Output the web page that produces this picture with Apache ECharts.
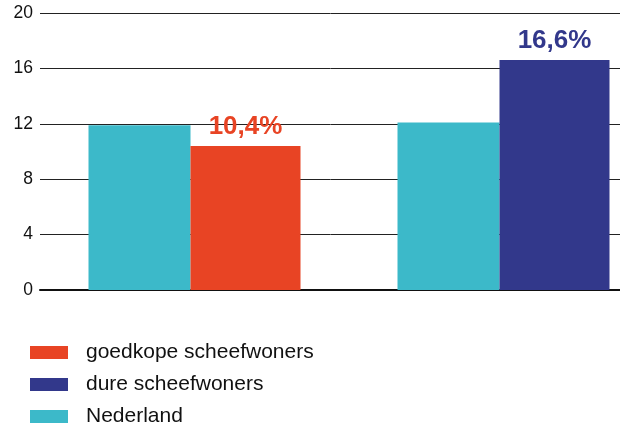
<!DOCTYPE html>
<html>
<head>
<meta charset="utf-8">
<script src="https://cdn.jsdelivr.net/npm/echarts@6/dist/echarts.min.js"></script>
<style>
html,body{margin:0;padding:0;background:#fff;}
#chart{width:620px;height:423px;}
</style>
</head>
<body>
<div id="chart"></div>
<script>
var categories = ['goedkope scheefwoners', 'dure scheefwoners'];
var nederland = [11.9, 12.1];
var goedkope = [10.4, '-'];
var dure = ['-', 16.6];
var yTicks = [0, 4, 8, 12, 16, 20];
var legendNames = ['goedkope scheefwoners', 'dure scheefwoners', 'Nederland'];

var FONT = '"Liberation Sans", Arial, sans-serif';
function pct(p) { return String(p.value).replace('.', ',') + '%'; }

var chart = echarts.init(document.getElementById('chart'), null, {renderer: 'canvas'});
chart.setOption({
  animation: false,
  backgroundColor: '#ffffff',
  grid: {left: 40, top: 13, width: 618, height: 277, containLabel: false, outerBoundsMode: 'none'},
  legend: {
    orient: 'vertical',
    left: 30,
    top: 342,
    height: 120,
    padding: 0,
    icon: 'rect',
    itemWidth: 38,
    itemHeight: 13,
    itemGap: 11,
    data: legendNames,
    textStyle: {fontFamily: FONT, fontSize: 21, color: '#111', padding: [0, 0, 0, 13]}
  },
  xAxis: {
    type: 'category',
    data: categories,
    axisLine: {lineStyle: {color: '#111', width: 2}},
    axisTick: {show: false},
    axisLabel: {show: false}
  },
  yAxis: {
    type: 'value',
    min: yTicks[0],
    max: yTicks[yTicks.length - 1],
    interval: yTicks[1] - yTicks[0],
    axisLine: {show: false},
    axisTick: {show: false},
    axisLabel: {fontFamily: FONT, fontSize: 17.5, color: '#111', margin: 7},
    splitLine: {lineStyle: {color: '#222', width: 1}}
  },
  series: [
    {
      name: 'Nederland', type: 'bar', data: nederland,
      barWidth: 102, barGap: '0%',
      itemStyle: {color: '#3CB9C9'}
    },
    {
      name: 'goedkope scheefwoners', type: 'bar', stack: 'other', data: goedkope,
      barWidth: 110,
      itemStyle: {color: '#E84424'},
      label: {show: true, position: 'top', distance: 6, formatter: pct,
        color: '#E84424', fontWeight: 'bold', fontSize: 26, fontFamily: FONT}
    },
    {
      name: 'dure scheefwoners', type: 'bar', stack: 'other', data: dure,
      barWidth: 110,
      itemStyle: {color: '#32388B'},
      label: {show: true, position: 'top', distance: 6, formatter: pct,
        color: '#32388B', fontWeight: 'bold', fontSize: 26, fontFamily: FONT}
    }
  ]
});
</script>
</body>
</html>
